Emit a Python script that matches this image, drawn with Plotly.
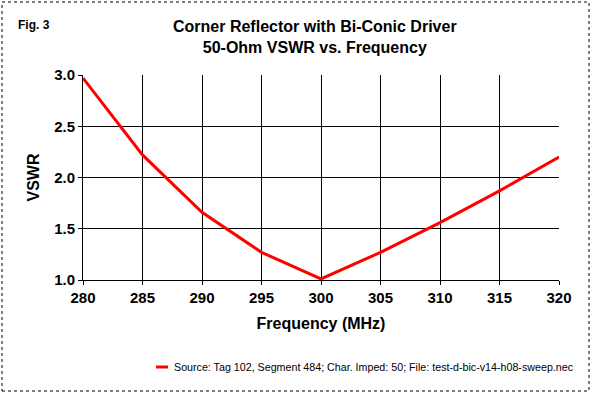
import plotly.graph_objects as go

freq_mhz = [280, 285, 290, 295, 300, 305, 310, 315, 320]
vswr = [2.97, 2.22, 1.66, 1.27, 1.01, 1.27, 1.56, 1.87, 2.20]
x_ticks = [280, 285, 290, 295, 300, 305, 310, 315, 320]
y_ticks = [1.0, 1.5, 2.0, 2.5, 3.0]
series_name = "Source: Tag 102, Segment 484; Char. Imped: 50; File: test-d-bic-v14-h08-sweep.nec"

W, H = 592, 394
L, R, T, B = 83, 33, 75, 114
pw, ph = W - L - R, H - T - B

def px_x(p):
    return (p - L) / pw

def px_y(p):
    return (H - B - p) / ph

FONT = "Liberation Sans, Arial, sans-serif"

fig = go.Figure()
fig.add_trace(go.Scatter(
    x=freq_mhz, y=vswr, mode="lines", name=series_name,
    line=dict(color="#FF0000", width=3), showlegend=False,
))

axis_common = dict(
    showgrid=True, gridcolor="black", gridwidth=1,
    showline=True, linecolor="black", linewidth=1,
    ticks="outside", ticklen=4, tickcolor="black", tickwidth=1,
    zeroline=False,
    tickfont=dict(family=FONT, size=15, color="black", weight="bold"),
)

fig.update_layout(
    width=W, height=H,
    margin=dict(l=L, r=R, t=T, b=B),
    paper_bgcolor="white", plot_bgcolor="white",
    font=dict(family=FONT, color="black"),
    xaxis=dict(range=[280, 320], tickvals=x_ticks, tickformat="d",
               title=dict(text="Frequency (MHz)", standoff=12,
                          font=dict(family=FONT, size=16, color="black", weight="bold")),
               **axis_common),
    yaxis=dict(range=[1.0, 3.0], tickvals=y_ticks, tickformat=".1f",
               title=dict(text="VSWR", standoff=10,
                          font=dict(family=FONT, size=16, color="black", weight="bold")),
               **axis_common),
    showlegend=False,
)

# chart title
fig.add_annotation(xref="paper", yref="paper", x=px_x(315), y=px_y(37),
                   text="<b>Corner Reflector with Bi-Conic Driver<br>50-Ohm VSWR vs. Frequency</b>",
                   showarrow=False, xanchor="center", yanchor="middle",
                   font=dict(family=FONT, size=16, color="black"))
# Fig. label
fig.add_annotation(xref="paper", yref="paper", x=px_x(16), y=px_y(25),
                   text="<b>Fig. 3</b>", showarrow=False, xanchor="left", yanchor="middle",
                   font=dict(family=FONT, size=12, color="black"))
# legend
fig.add_shape(type="line", xref="paper", yref="paper",
              x0=px_x(156), x1=px_x(168), y0=px_y(367), y1=px_y(367),
              line=dict(color="#FF0000", width=3))
fig.add_annotation(xref="paper", yref="paper", x=px_x(172), y=px_y(367),
                   text=series_name, showarrow=False, xanchor="left", yanchor="middle",
                   font=dict(family=FONT, size=10.7, color="black"))
# dotted chart border
fig.add_shape(type="rect", xref="paper", yref="paper",
              x0=px_x(2), x1=px_x(589), y0=px_y(391), y1=px_y(2),
              line=dict(color="black", width=1, dash="dot"), layer="below")

fig.write_html("out.html", config={"displayModeBar": False},
               post_script="document.body.style.margin='0';document.body.style.overflow='hidden';")
